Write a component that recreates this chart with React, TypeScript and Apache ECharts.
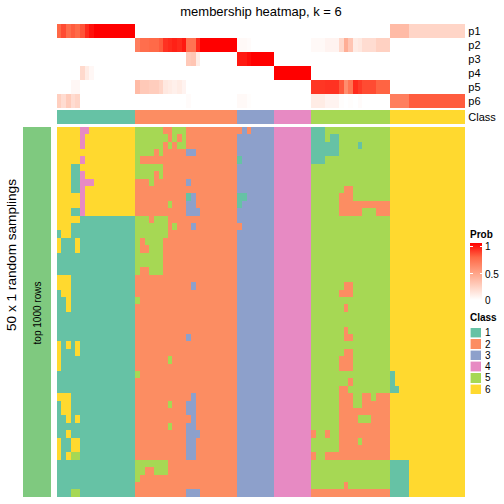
import React, { useEffect, useRef } from "react";
import * as echarts from "echarts";

// ---------- texts ----------
const TITLE = "membership heatmap, k = 6";
const ROW_TITLE = "50 x 1 random samplings";
const SUB_TITLE = "top 1000 rows";
const PROB_ROWS = ["p1", "p2", "p3", "p4", "p5", "p6"];
const CLASS_ROW = ["Class"];
const PROB_LEGEND_TITLE = "Prob";
const CLASS_LEGEND_TITLE = "Class";
const PROB_LEGEND_TICKS = ["1", "0.5", "0"];

// ---------- colours ----------
const CLASS_IDS = [1, 2, 3, 4, 5, 6];
const CLASS_COLORS = ["#66C2A5", "#FC8D62", "#8DA0CB", "#E78AC3", "#A6D854", "#FFD92F"];
const BAR_COLOR = "#7FC97F";
const PROB_RAMP = ["#FFFFFF", "#FFCFBF", "#FF9E81", "#FF6846", "#FF0000"];

// ---------- data ----------
// consensus class of every column (88 columns)
const COLUMN_CLASS =
  "11111111111111111 2222222222222222222222 33333333 44444444 55555555555555555 6666666666666666";

// membership probabilities per column
const P1 = [
  0.75, 0.82, 0.73, 0.78, 0.74, 0.8, 0.9, 0.96, 1, 1, 1, 1, 1, 1, 1, 1, 1,
  0, 0, 0, 0, 0, 0, 0, 0, 0, 0, 0, 0, 0, 0, 0, 0, 0, 0, 0, 0, 0, 0,
  0, 0, 0, 0, 0, 0, 0, 0,
  0, 0, 0, 0, 0, 0, 0, 0,
  0, 0, 0, 0, 0, 0, 0, 0, 0, 0, 0, 0, 0, 0, 0, 0, 0,
  0.35, 0.35, 0.35, 0.35, 0.22, 0.22, 0.22, 0.22, 0.22, 0.22, 0.22, 0.22, 0.22, 0.22, 0.22, 0.22,
];
const P2 = [
  0, 0, 0, 0, 0, 0, 0, 0, 0, 0, 0, 0, 0, 0, 0, 0, 0,
  0.65, 0.72, 0.72, 0.74, 0.74, 0.78, 0.88, 0.9, 0.92, 0.9, 0.94, 0.7, 0.7, 0.9, 1, 1, 1, 1, 1, 1, 1, 1,
  0.03, 0.03, 0.02, 0, 0, 0, 0, 0,
  0, 0, 0, 0, 0, 0, 0, 0,
  0.03, 0.03, 0.03, 0.06, 0.06, 0.06, 0.2, 0.42, 0.3, 0.1, 0.12, 0.18, 0.18, 0.18, 0.24, 0.24, 0.24,
  0, 0, 0, 0, 0, 0, 0, 0, 0, 0, 0, 0, 0, 0, 0, 0,
];
const P3 = [
  0, 0, 0, 0, 0, 0, 0, 0, 0, 0, 0, 0, 0, 0, 0, 0, 0,
  0, 0, 0, 0, 0, 0, 0, 0, 0, 0, 0, 0.28, 0.3, 0.1, 0, 0, 0, 0, 0, 0, 0, 0,
  0.94, 0.94, 0.97, 1, 1, 1, 1, 1,
  0, 0, 0, 0, 0, 0, 0, 0,
  0, 0, 0, 0, 0, 0, 0, 0, 0, 0, 0, 0, 0, 0, 0, 0, 0,
  0, 0, 0, 0, 0, 0, 0, 0, 0, 0, 0, 0, 0, 0, 0, 0,
];
const P4 = [
  0, 0, 0, 0, 0, 0.2, 0.1, 0.04, 0, 0, 0, 0, 0, 0, 0, 0, 0,
  0, 0, 0, 0, 0, 0, 0, 0, 0, 0, 0, 0, 0, 0, 0, 0, 0, 0, 0, 0, 0, 0,
  0, 0, 0, 0, 0, 0, 0, 0,
  1, 1, 1, 1, 1, 1, 1, 1,
  0, 0, 0, 0, 0, 0, 0, 0, 0, 0, 0, 0, 0, 0, 0, 0, 0,
  0, 0, 0, 0, 0, 0, 0, 0, 0, 0, 0, 0, 0, 0, 0, 0,
];
const P5 = [
  0, 0, 0, 0.04, 0.04, 0, 0, 0, 0, 0, 0, 0, 0, 0, 0, 0, 0,
  0.35, 0.28, 0.28, 0.26, 0.26, 0.22, 0.12, 0.1, 0.08, 0.1, 0.06, 0, 0, 0, 0, 0, 0, 0, 0, 0, 0, 0,
  0, 0, 0, 0, 0, 0, 0, 0,
  0, 0, 0, 0, 0, 0, 0, 0,
  0.87, 0.87, 0.87, 0.88, 0.88, 0.88, 0.79, 0.58, 0.69, 0.9, 0.86, 0.82, 0.82, 0.82, 0.76, 0.76, 0.76,
  0, 0, 0, 0, 0, 0, 0, 0, 0, 0, 0, 0, 0, 0, 0, 0,
];
const P6 = [
  0.25, 0.18, 0.27, 0.18, 0.22, 0, 0, 0, 0, 0, 0, 0, 0, 0, 0, 0, 0,
  0, 0, 0, 0, 0, 0, 0, 0, 0, 0, 0, 0.02, 0, 0, 0, 0, 0, 0, 0, 0, 0, 0,
  0.03, 0.03, 0.01, 0, 0, 0, 0, 0,
  0, 0, 0, 0, 0, 0, 0, 0,
  0.1, 0.1, 0.1, 0.06, 0.06, 0.06, 0.01, 0, 0.01, 0, 0.02, 0, 0, 0, 0, 0, 0,
  0.65, 0.65, 0.65, 0.65, 0.78, 0.78, 0.78, 0.78, 0.78, 0.78, 0.78, 0.78, 0.78, 0.78, 0.78, 0.78,
];

// class assigned to each column in each of the 50 random samplings
const SAMPLINGS = [
  "66666446666666666 5555552255522222222222 23233333 44444444 11155555555555555 6666666666666666",
  "66666466666666666 5555555252522222222222 33333333 44444444 11151155555555555 6666666666666666",
  "66666466666666666 5555552525522222222222 33333333 44444444 11111155551555555 6666666666666666",
  "66666666666666666 5555252222233222222222 33333333 44444444 11111155555555555 6666666666666666",
  "66666466666666666 5222222222222222222222 13333333 44444444 11155555555555555 6666666666666666",
  "66611666666666666 5555552222222222222222 33333333 44444444 55555555555555555 6666666666666666",
  "66611466666666666 5555252222222222222222 33333333 44444444 55555555555555555 6666666666666666",
  "66611444666666666 2225222222232222222222 33333333 44444444 55555555555555555 6666666666666666",
  "66611466666666666 2222222222222222222222 33333333 44444444 55555552255555555 6666666666666666",
  "66666466666666666 2222222222213222222222 11333333 44444444 55555522255555555 6666666666666666",
  "66666466666666666 2222222522233222222222 13333333 44444444 55555522222222222 6666666666666666",
  "66611466666666666 2222222222233322222222 33333333 44444444 55555522222555222 6666666666666666",
  "66666111111111111 5552555222222222222222 33333333 44444444 55555555555555555 6666666666666666",
  "66611111111111111 5555555252223222222222 23333333 44444444 55555555555555555 6666666666666666",
  "16611111111111111 5555555222222222222222 33333333 44444444 55555555555555555 6666666666666666",
  "61116111111111111 5255552222222222222222 33333333 44444444 55555555555555555 6666666666666666",
  "61116111111111111 5225552222222222222222 33333333 44444444 55555555555555555 6666666666666666",
  "11111111111111111 5555552222222222222222 33333333 44444444 55555555555555555 6666666666666666",
  "11111111111111111 5555552222222222222222 33333333 44444444 55555555555555555 6666666666666666",
  "11111111111111111 5225552222222222222222 33333333 44444444 55555555555555555 6666666666666666",
  "66611111111111111 2222222222222222222222 33333333 44444444 55555555555555555 6666666666666666",
  "66611111111111111 2222222222223222222222 33333333 44444444 55555552255555555 6666666666666666",
  "16611111111111111 2222222222222222222222 33333333 44444444 55555522255555555 6666666666666666",
  "11611111111111111 5222222222222222222222 33333333 44444444 55555555555555555 6666666666666666",
  "11611111111111111 2222222222222222222222 33333333 44444444 55555552555555555 6666666666666666",
  "11111111111111111 2222222222222222222222 33333333 44444444 55555555555555555 6666666666666666",
  "11111111111111111 2222222222222222222222 33333333 44444444 55555555555555555 6666666666666666",
  "11111111111111111 2222222222222222222222 33333333 44444444 55555552555555555 6666666666666666",
  "11111111111111111 2222222222232222222222 33333333 44444444 55555552255555555 6666666666666666",
  "61616111111111111 2222222222222222222222 33333333 44444444 55555555555555555 6666666666666666",
  "61116111111111111 2222222222222222222222 33333333 44444444 55555552255555555 6666666666666666",
  "61111111111111111 2222222522222222222222 33333333 44444444 55555522255555555 6666666666666666",
  "61111111111111111 2222222222222222222222 33333333 44444444 55555522255555555 6666666666666666",
  "11111111111111111 5222222222222222222222 33333333 44444444 55555555555555555 1666666666666666",
  "11111111111111111 2222222222222222222222 33333333 44444444 55555555255555555 1666666666666666",
  "11111111111111111 2222222222222222222222 33333333 44444444 55555522555555555 1166666666666666",
  "66611111111111111 2222222222223222222222 33333333 44444444 55555522255225222 6666666666666666",
  "16611111111111111 2222222522233222222222 33333333 44444444 55555522255222222 6666666666666666",
  "16611111111111111 2222222222233222222222 33333333 44444444 55555522222222222 6666666666666666",
  "11616111111111111 2222222222223222222222 33333333 44444444 55555522225552222 6666666666666666",
  "11111111111111111 2222222522233222222222 33333333 44444444 55555522222222222 6666666666666666",
  "11611111111111111 2222222222233322222222 33333333 44444444 25525522222222222 6666666666666666",
  "61166111111111111 2222222222233222222222 33333333 44444444 55555522225222222 6666666666666666",
  "61166111111111111 2222222222233222222222 33333333 44444444 55555522222222222 6666666666666666",
  "61655111111111111 2222222222233222222222 33333333 44444444 25522222222222222 6666666666666666",
  "11111111111111111 5555555222222222222222 33333333 44444444 55555555555555555 1111666666666666",
  "11111111111111111 5522555222222222222222 33333333 44444444 55555555555555555 1111666666666666",
  "11111111111111111 5222222222222222222222 33333333 44444444 55555555555555555 1111666666666666",
  "11111111111111111 2222222222222222222222 33333333 44444444 55555552555555555 1111666666666666",
  "11155111111111111 2222222222233322222222 33333333 44444444 22222222222222222 1111666666666666",
];

const FONT = "'Liberation Sans', Arial, Helvetica, sans-serif";

function parse(s: string): number[] {
  return s.replace(/\s+/g, "").split("").map(Number);
}

function buildOption() {
  const colClass = parse(COLUMN_CLASS);
  const cols = colClass.map((_, i) => String(i));
  const rows = SAMPLINGS.map(parse);
  const probs = [P1, P2, P3, P4, P5, P6];

  const probData: number[][] = [];
  probs.forEach((arr, r) => arr.forEach((v, c) => probData.push([c, r, v])));
  const classData = colClass.map((k, c) => [c, 0, k]);
  const mainData: number[][] = [];
  rows.forEach((row, r) => row.forEach((k, c) => mainData.push([c, r, k])));

  const HM_LEFT = 57;
  const HM_WIDTH = 407.3;

  const hm = (xi: number, yi: number, data: any[]) => ({
    type: "heatmap",
    xAxisIndex: xi,
    yAxisIndex: yi,
    data,
    progressive: 0,
    silent: true,
    itemStyle: { borderWidth: 0 },
    emphasis: { disabled: true },
  });

  const labelAxis = (gi: number, data: string[]) => ({
    type: "category",
    gridIndex: gi,
    data,
    inverse: true,
    position: "right",
    axisLine: { show: false },
    axisTick: { show: false },
    splitLine: { show: false },
    axisLabel: { interval: 0, fontSize: 11, color: "#000", margin: 4, fontFamily: FONT },
  });

  const legendX = 470;
  const classLegendTop = 327.5;
  const classStep = 11.3;
  const Z = 100;

  const graphics: any[] = [
    {
      type: "text",
      z: Z,
      x: 261,
      y: 11,
      style: { text: TITLE, fontSize: 13, fill: "#000", textAlign: "center", textVerticalAlign: "middle", fontFamily: FONT },
    },
    {
      type: "text",
      z: Z,
      x: 11,
      y: 255,
      rotation: Math.PI / 2,
      style: { text: ROW_TITLE, fontSize: 13.6, fill: "#000", textAlign: "center", textVerticalAlign: "middle", fontFamily: FONT },
    },
    {
      type: "text",
      z: Z,
      x: 37,
      y: 313,
      rotation: Math.PI / 2,
      style: { text: SUB_TITLE, fontSize: 10, fill: "#000", textAlign: "center", textVerticalAlign: "middle", fontFamily: FONT },
    },
    {
      type: "text",
      z: Z,
      x: legendX,
      y: 234,
      style: { text: PROB_LEGEND_TITLE, fontSize: 10, fontWeight: "bold", fill: "#000", textAlign: "left", textVerticalAlign: "middle", fontFamily: FONT },
    },
    {
      type: "rect",
      z: Z,
      shape: { x: legendX, y: 243, width: 12, height: 57 },
      style: {
        fill: {
          type: "linear",
          x: 0, y: 0, x2: 0, y2: 1,
          colorStops: PROB_RAMP.slice().reverse().map((c, i, a) => ({ offset: i / (a.length - 1), color: c })),
        },
      },
    },
    ...[246, 273].flatMap((yy) => [
      { type: "line", z: Z + 1, shape: { x1: legendX, y1: yy, x2: legendX + 2.5, y2: yy }, style: { stroke: "#fff", lineWidth: 1 } },
      { type: "line", z: Z + 1, shape: { x1: legendX + 9.5, y1: yy, x2: legendX + 12, y2: yy }, style: { stroke: "#fff", lineWidth: 1 } },
    ]),
    ...PROB_LEGEND_TICKS.map((t, i) => ({
      type: "text",
      z: Z,
      x: 485,
      y: [246, 274, 300][i],
      style: { text: t, fontSize: 10, fill: "#000", textAlign: "left", textVerticalAlign: "middle", fontFamily: FONT },
    })),
    {
      type: "text",
      z: Z,
      x: legendX,
      y: 317,
      style: { text: CLASS_LEGEND_TITLE, fontSize: 10, fontWeight: "bold", fill: "#000", textAlign: "left", textVerticalAlign: "middle", fontFamily: FONT },
    },
    ...CLASS_IDS.flatMap((k, i) => [
      {
        type: "rect",
        z: Z,
        shape: { x: legendX, y: classLegendTop + i * classStep, width: 11, height: 10.3 },
        style: { fill: CLASS_COLORS[i], stroke: "#fff", lineWidth: 0.6 },
      },
      {
        type: "text",
        z: Z,
        x: 485,
        y: classLegendTop + i * classStep + 5.2,
        style: { text: String(k), fontSize: 10, fill: "#000", textAlign: "left", textVerticalAlign: "middle", fontFamily: FONT },
      },
    ]),
  ];

  return {
    animation: false,
    backgroundColor: "#fff",
    textStyle: { fontFamily: FONT },
    grid: [
      { left: HM_LEFT, top: 24, width: HM_WIDTH, height: 84 },
      { left: HM_LEFT, top: 110, width: HM_WIDTH, height: 14 },
      { left: HM_LEFT, top: 127, width: HM_WIDTH, height: 370 },
      { left: 23, top: 127, width: 28, height: 370 },
    ],
    xAxis: [
      { type: "category", gridIndex: 0, data: cols, show: false },
      { type: "category", gridIndex: 1, data: cols, show: false },
      { type: "category", gridIndex: 2, data: cols, show: false },
      { type: "category", gridIndex: 3, data: ["bar"], show: false },
    ],
    yAxis: [
      labelAxis(0, PROB_ROWS),
      labelAxis(1, CLASS_ROW),
      { type: "category", gridIndex: 2, data: rows.map((_, i) => String(i)), inverse: true, show: false },
      { type: "category", gridIndex: 3, data: ["bar"], show: false },
    ],
    visualMap: [
      {
        type: "continuous",
        show: false,
        seriesIndex: 0,
        dimension: 2,
        min: 0,
        max: 1,
        inRange: { color: PROB_RAMP },
      },
      {
        type: "piecewise",
        show: false,
        seriesIndex: [1, 2, 3],
        dimension: 2,
        pieces: [
          ...CLASS_IDS.map((k, i) => ({ value: k, color: CLASS_COLORS[i] })),
          { value: 7, color: BAR_COLOR },
        ],
      },
    ],
    series: [
      hm(0, 0, probData),
      hm(1, 1, classData),
      hm(2, 2, mainData),
      hm(3, 3, [[0, 0, 7]]),
    ],
    graphic: graphics,
  };
}

export default function App() {
  const ref = useRef<HTMLDivElement>(null);
  useEffect(() => {
    if (!ref.current) return;
    const chart = echarts.init(ref.current, undefined, { renderer: "svg" });
    chart.setOption(buildOption() as any);
    return () => chart.dispose();
  }, []);
  return (
    <>
      <style>{`.hm-chart svg path{shape-rendering:crispEdges}`}</style>
      <div
        ref={ref}
        className="hm-chart"
        style={{ position: "fixed", left: 0, top: 0, width: 504, height: 504, background: "#fff" }}
      />
    </>
  );
}
